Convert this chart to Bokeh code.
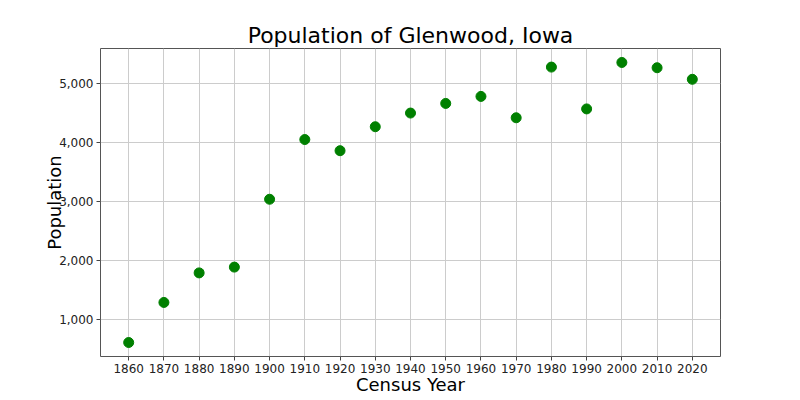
from bokeh.plotting import figure
from bokeh.models import FixedTicker, NumeralTickFormatter, Range1d
from bokeh.embed import file_html
from bokeh.resources import INLINE

years = [1860, 1870, 1880, 1890, 1900, 1910, 1920, 1930, 1940, 1950,
         1960, 1970, 1980, 1990, 2000, 2010, 2020]
population = [612, 1291, 1792, 1890, 3040, 4052, 3863, 4269, 4501, 4664,
              4783, 4421, 5280, 4571, 5358, 5269, 5073]
x_ticks = years
y_ticks = [1000, 2000, 3000, 4000, 5000]

FONT = "DejaVu Sans"

p = figure(width=800, height=400, output_backend="svg", toolbar_location=None,
           min_border_left=100, min_border_right=80, min_border_top=48,
           min_border_bottom=44,
           x_range=Range1d(1852, 2028), y_range=Range1d(375, 5595),
           title="Population of Glenwood, Iowa")

p.scatter(years, population, size=10, color="green", line_color="green")

p.title.align = "center"
p.title.text_font = FONT
p.title.text_font_size = "22px"
p.title.text_font_style = "normal"
p.title.text_color = "black"
p.title.offset = 0
p.title.standoff = 2

for ax in (p.xaxis, p.yaxis):
    ax.major_label_text_font = FONT
    ax.major_label_text_font_size = "12px"
    ax.major_label_text_color = "#222222"
    ax.axis_label_text_font = FONT
    ax.axis_label_text_font_size = "18px"
    ax.axis_label_text_font_style = "normal"
    ax.axis_label_text_color = "black"
    ax.axis_line_color = None
    ax.major_tick_line_color = "#444444"
    ax.major_tick_out = 4
    ax.major_tick_in = 0
    ax.minor_tick_line_color = None
    ax.major_label_standoff = 3

p.xaxis.axis_label_standoff = -2
p.yaxis.axis_label_standoff = -9

p.xaxis.axis_label = "Census Year"
p.yaxis.axis_label = "Population"
p.xaxis.ticker = FixedTicker(ticks=x_ticks)
p.yaxis.ticker = FixedTicker(ticks=y_ticks)
p.yaxis.formatter = NumeralTickFormatter(format="0,0")
p.yaxis.major_label_orientation = "horizontal"

p.grid.grid_line_color = "#cccccc"
p.grid.grid_line_width = 1

p.outline_line_color = "#555555"
p.outline_line_width = 1

open("out.html", "w").write(file_html(p, INLINE))
